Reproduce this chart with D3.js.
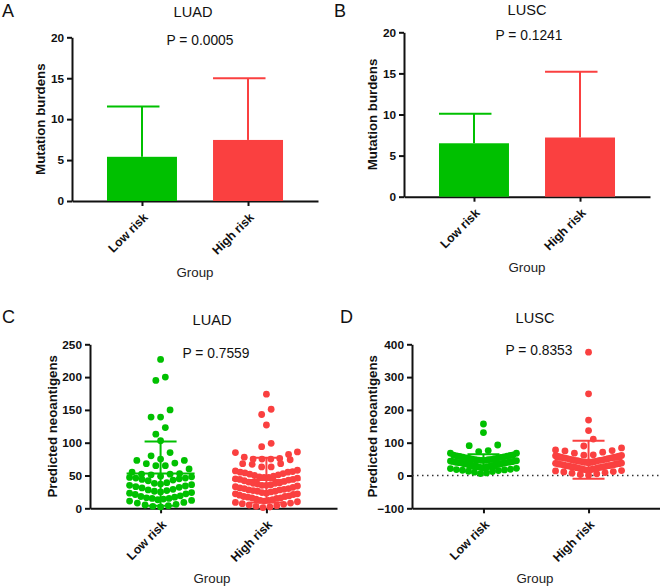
<!DOCTYPE html>
<html>
<head>
<meta charset="utf-8">
<script src="https://cdn.jsdelivr.net/npm/d3@7"></script>
<style>
  body { margin: 0; background: #fff; }
  text { font-family: "Liberation Sans", Arial, sans-serif; }
</style>
</head>
<body>
<script>
// ---------------- data ----------------
const groups = ["Low risk", "High risk"];
const colors = ["#00c000", "#fa4040"];

const mutTicks = [0, 5, 10, 15, 20];
const luadNeoTicks = [0, 50, 100, 150, 200, 250];
const luscNeoTicks = [-100, 0, 100, 200, 300, 400];

const pValues = ["P = 0.0005", "P = 0.1241", "P = 0.7559", "P = 0.8353"];

// Panel A / B : mean and SD of mutation burdens
const mutLUADMean = [5.4, 7.46];
const mutLUADSd = [6.15, 7.54];
const mutLUSCMean = [6.5, 7.2];
const mutLUSCSd = [3.6, 8.0];

// Panel C : predicted neoantigens, LUAD
const neoLUADLow = [227,200,195,150,139,139,123,113,103,85,80,75,73,73,69,68,65,65,60,
  55,53,52,52,51,
  49,48,47,46,46,45,44,43,42,
  39,38,37,36,35,34,33,32,31,
  29,28,27,26,25,24,23,22,21,
  19,18,17,16,15,15,14,13,12,11,
  9,8,6,5,4,3,2];
const neoLUADHigh = [174,151,143,127,99,94,86,85,82,78,76,75,75,75,74,68,68,67,63,63,
  58,57,56,55,55,54,53,52,51,50,
  49,48,47,47,46,45,44,44,43,42,41,40,
  39,38,38,37,36,35,35,34,33,32,31,30,30,
  29,28,28,27,26,26,25,24,23,22,22,21,20,
  19,18,18,17,16,16,15,14,13,12,12,11,10,
  9,8,7,6,5,4,3,2,1];
const neoLUADMean = [53, 43];
const neoLUADSd = [49, 34];

// Panel D : predicted neoantigens, LUSC
const neoLUSCLow = [157,131,93,91,76,73,68,68,
  63,62,61,60,59,58,57,56,55,54,53,52,51,50,49,48,48,47,46,46,45,44,44,43,
  42,41,41,40,40,39,38,38,37,36,35,35,34,33,33,32,31,30,30,29,28,27,26,25,24,23,22,
  21,19,18,17,16,15,13,12,10,8,6];
const neoLUSCHigh = [376,249,169,137,111,90,84,78,76,75,71,68,
  63,62,61,60,59,58,57,56,55,54,53,52,51,50,49,48,47,46,46,45,44,43,
  42,41,40,40,39,38,37,36,35,35,34,33,32,31,30,30,29,28,27,26,26,25,24,23,22,
  21,20,19,18,17,16,15,14,12,11,9,7,5,3,1];
const neoLUSCMean = [43, 48];
const neoLUSCSd = [22, 58];

// ---------------- drawing ----------------
const FONT = "Liberation Sans, Arial, sans-serif";
const svg = d3.select("body").append("svg").attr("width", 660).attr("height", 587);

function frame(o) {
  const g = svg.append("g");
  const y = d3.scaleLinear().domain(o.domain).range([o.yBot, o.yTop]);
  const x = d3.scalePoint().domain(groups).range([o.x0, o.x1]).padding(o.pad);

  g.append("text").attr("x", o.letterX).attr("y", o.letterY).attr("font-size", 18).attr("fill", "#111").text(o.letter);
  g.append("text").attr("x", o.titleX).attr("y", o.titleY).attr("font-size", 14.6).attr("fill", "#111")
    .attr("text-anchor", "middle").text(o.title);
  g.append("text").attr("x", o.pX).attr("y", o.pY).attr("font-size", 13.8).attr("fill", "#111")
    .attr("text-anchor", "middle").text(o.p);

  const ya = g.append("g").attr("transform", `translate(${o.x0},0)`)
    .call(d3.axisLeft(y).tickValues(o.ticks).tickSize(5).tickSizeOuter(0).tickPadding(3));
  ya.select(".domain").attr("stroke", "#111").attr("stroke-width", 2);
  ya.selectAll(".tick line").attr("stroke", "#111").attr("stroke-width", 2);
  ya.selectAll(".tick text").attr("font-size", 11.8).attr("font-weight", "bold")
    .attr("fill", "#111").attr("font-family", FONT);

  const xa = g.append("g").attr("transform", `translate(0,${o.yBot})`)
    .call(d3.axisBottom(x).tickSize(5).tickSizeOuter(0));
  xa.select(".domain").attr("stroke", "#111").attr("stroke-width", 2);
  xa.selectAll(".tick line").attr("stroke", "#111").attr("stroke-width", 2);
  xa.selectAll(".tick text").attr("font-size", 12.3).attr("font-weight", "bold")
    .attr("fill", "#111").attr("font-family", FONT)
    .attr("text-anchor", "end").attr("x", 0).attr("y", 0).attr("dy", "0.35em")
    .attr("transform", "translate(3,14) rotate(-45)");

  g.append("text").attr("transform", `translate(${o.ytitleX},${(o.yTop + o.yBot) / 2}) rotate(-90)`)
    .attr("text-anchor", "middle").attr("dy", "0.35em").attr("font-size", 13.3)
    .attr("font-weight", "bold").attr("fill", "#111").text(o.ytitle);
  g.append("text").attr("x", o.groupX).attr("y", o.groupY).attr("text-anchor", "middle")
    .attr("font-size", 13.3).attr("fill", "#222").text("Group");

  return { g, x, y };
}

function barPanel(o, means, sds) {
  const { g, x, y } = frame(o);
  const bw = x.step() * 0.66;
  groups.forEach((k, i) => {
    const cx = x(k);
    g.append("rect").attr("x", cx - bw / 2).attr("y", y(means[i]))
      .attr("width", bw).attr("height", y(0) - y(means[i])).attr("fill", colors[i]);
    const top = y(means[i] + sds[i]);
    g.append("line").attr("x1", cx).attr("x2", cx).attr("y1", y(means[i])).attr("y2", top)
      .attr("stroke", colors[i]).attr("stroke-width", 2);
    g.append("line").attr("x1", cx - bw / 2).attr("x2", cx + bw * 0.25).attr("y1", top).attr("y2", top)
      .attr("stroke", colors[i]).attr("stroke-width", 2);
  });
}

// rows are built top-down: a new row starts when a point is more than rowH px below the row's first point
function swarm(values, y, cx, r, maxHalf, pref) {
  const rowH = 2.2 * r;
  const sorted = values.slice().sort((a, b) => b - a);
  const rows = [];
  let cur = null;
  for (const v of sorted) {
    const py = y(v);
    if (!cur || py - cur.top > rowH) { cur = { top: py, vs: [] }; rows.push(cur); }
    cur.vs.push(v);
  }
  const pts = [];
  for (const row of rows) {
    const s = row.vs.slice().sort((a, b) => a - b);
    const n = s.length;
    const sp = n > 1 ? Math.min(pref, 2 * maxHalf / (n - 1)) : 0;
    const slots = d3.range(n).map(j => (j - (n - 1) / 2) * sp);
    slots.sort((a, b) => Math.abs(a) - Math.abs(b) || a - b);
    s.forEach((v, j) => pts.push({ x: cx + slots[j], y: y(v) }));
  }
  return pts;
}

function dotPanel(o, sets, means, sds, zeroLine) {
  const { g, x, y } = frame(o);
  if (zeroLine) {
    g.append("line").attr("x1", o.x0).attr("x2", o.x1).attr("y1", y(0)).attr("y2", y(0))
      .attr("stroke", "#333").attr("stroke-width", 1.5).attr("stroke-dasharray", "1.5,3.5");
  }
  groups.forEach((k, i) => {
    const cx = x(k);
    const pts = swarm(sets[i], y, cx, 3.4, o.maxHalf, 9.5);
    g.selectAll(null).data(pts).enter().append("circle")
      .attr("cx", p => p.x).attr("cy", p => p.y).attr("r", 3.4).attr("fill", colors[i]);
    const m = means[i], s = sds[i];
    const line = (x1, x2, y1, y2) => g.append("line").attr("x1", x1).attr("x2", x2)
      .attr("y1", y1).attr("y2", y2).attr("stroke", colors[i]).attr("stroke-width", 2);
    line(cx - 34, cx + 34, y(m), y(m));
    line(cx, cx, y(m - s), y(m + s));
    line(cx - 16, cx + 16, y(m + s), y(m + s));
    line(cx - 16, cx + 16, y(m - s), y(m - s));
  });
}

barPanel({ x0: 72, x1: 318, pad: 0.66, yTop: 37.3, yBot: 201, domain: [0, 20], ticks: mutTicks,
  ytitle: "Mutation burdens", ytitleX: 40, title: "LUAD", titleX: 193, titleY: 17,
  letter: "A", letterX: 2, letterY: 17, p: pValues[0], pX: 200, pY: 45, groupX: 195, groupY: 277 },
  mutLUADMean, mutLUADSd);

barPanel({ x0: 404, x1: 650, pad: 0.66, yTop: 32.3, yBot: 196.7, domain: [0, 20], ticks: mutTicks,
  ytitle: "Mutation burdens", ytitleX: 372, title: "LUSC", titleX: 527, titleY: 15,
  letter: "B", letterX: 334, letterY: 17, p: pValues[1], pX: 529, pY: 40, groupX: 527, groupY: 272 },
  mutLUSCMean, mutLUSCSd);

dotPanel({ x0: 90, x1: 337, pad: 0.667, yTop: 344.3, yBot: 508.3, domain: [0, 250], ticks: luadNeoTicks,
  ytitle: "Predicted neoantigens", ytitleX: 52, title: "LUAD", titleX: 212, titleY: 325,
  letter: "C", letterX: 2, letterY: 323, p: pValues[2], pX: 216, pY: 358, groupX: 212, groupY: 583,
  maxHalf: 31 }, [neoLUADLow, neoLUADHigh], neoLUADMean, neoLUADSd, false);

dotPanel({ x0: 412, x1: 660, pad: 0.68, yTop: 344.3, yBot: 508.3, domain: [-100, 400], ticks: luscNeoTicks,
  ytitle: "Predicted neoantigens", ytitleX: 372, title: "LUSC", titleX: 535, titleY: 323,
  letter: "D", letterX: 340, letterY: 323, p: pValues[3], pX: 539, pY: 355, groupX: 535, groupY: 583,
  maxHalf: 33 }, [neoLUSCLow, neoLUSCHigh], neoLUSCMean, neoLUSCSd, true);
</script>
</body>
</html>
